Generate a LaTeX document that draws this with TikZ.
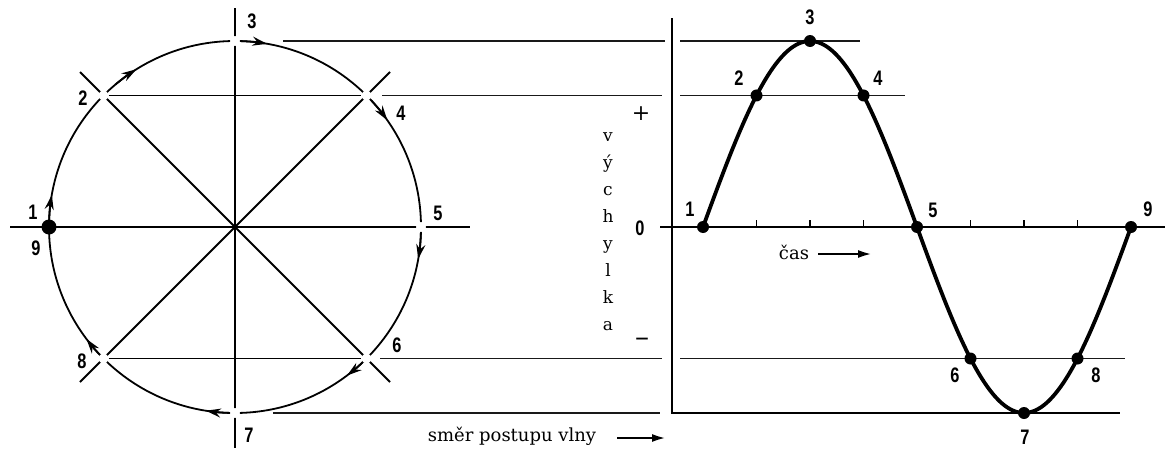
\documentclass[tikz,border=0pt]{standalone}
\usepackage{fontspec}
\setmainfont{DejaVu Serif}
\newfontfamily\numfont[FakeStretch=0.78]{Liberation Sans}
\usetikzlibrary{arrows.meta,calc}
\begin{document}
\begin{tikzpicture}[x=1pt,y=-1pt,
  thinln/.style={line width=1.8pt},
  hline/.style={line width=1.9pt, black!90},
  cpt/.style={circle, fill=white, inner sep=0pt, minimum size=10pt},
  bigdot/.style={circle, fill=black, inner sep=0pt, minimum size=15pt},
  gdot/.style={circle, fill=black, inner sep=0pt, minimum size=12pt},
  num/.style={font=\numfont\bfseries\fontsize{21}{21}\selectfont, inner sep=0pt},
  lab/.style={font=\fontsize{17}{17}\selectfont, inner sep=0pt},
  carrow/.style={line width=1.8pt, -{Stealth[length=15pt,width=9pt]}},
  tarrow/.style={line width=2.4pt, -{Latex[length=14pt,width=8pt]}},
  wave/.style={line width=3.8pt}]
\useasboundingbox (0,0) rectangle (1170,450);
\def\R{186}
\coordinate (O) at (235,227);
% circle and its axes
\draw[thinln] (O) circle[radius=\R];
\coordinate (hL) at (10,227); \coordinate (hR) at (470,227);
\coordinate (vT) at (235,8); \coordinate (vB) at (235,448);
\coordinate (d2) at (80,72); \coordinate (d4) at (390,72);
\coordinate (d6) at (390,382); \coordinate (d8) at (80,382);
\draw[thinln] (hL) -- (hR);
\draw[thinln] (vT) -- (vB);
\draw[thinln] (d2) -- (d6);
\draw[thinln] (d4) -- (d8);
% direction arrows on the circle
\foreach \t in {-170,-122,-80,-35,10,53,99,143}
  \draw[carrow] ([shift={(O)}]{\t-8}:\R) arc[start angle=\t-8, end angle=\t, radius=\R];
% points on the circle
\node[bigdot] (c1) at (49,227) {};
\node[cpt] (c2) at (103.5,95.5) {};
\node[cpt] (c3) at (235,41) {};
\node[cpt] (c4) at (366.5,95.5) {};
\node[cpt] (c5) at (421,227) {};
\node[cpt] (c6) at (366.5,358.5) {};
\node[cpt] (c7) at (235,413) {};
\node[cpt] (c8) at (103.5,358.5) {};
\draw[thinln] (c2) -- (c4);
\draw[thinln] (c8) -- (c6);
% labels on the circle
\node[num] (n3) at (252,21) {3};
\node[num] (n2) at (83,98) {2};
\node[num] (n4) at (401,113) {4};
\node[num] (n1) at (33,212) {1};
\node[num] (n9) at (36,248) {9};
\node[num] (n5) at (438,213) {5};
\node[num] (n6) at (397,345) {6};
\node[num] (n8) at (82,361) {8};
\node[num] (n7) at (249,435) {7};
% projection lines (left parts)
\coordinate (p3a) at (283,41);  \coordinate (p3b) at (665,41);
\coordinate (p2a) at (382,95.5); \coordinate (p2b) at (662,95.5);
\coordinate (p6a) at (380,358.5); \coordinate (p6b) at (662,358.5);
\coordinate (p7a) at (273,413); \coordinate (p7b) at (660,413);
\draw[hline] (p3a) -- (p3b);
\draw[hline] (p2a) -- (p2b);
\draw[hline] (p6a) -- (p6b);
\draw[hline] (p7a) -- (p7b);
% graph
\coordinate (axT) at (672,18); \coordinate (axB) at (672,413); \coordinate (axR) at (1120,413);
\draw[thinln] (axT) -- (axB) -- (axR);
\coordinate (zL) at (660,227); \coordinate (zR) at (1165,227);
\draw[thinln] (zL) -- (zR);
\foreach \k in {1,2,3,5,6,7}
  \draw[thinln] ({703+53.5*\k},227) -- ++(0,-7);
\coordinate (q3a) at (680,41);  \coordinate (q3b) at (860,41);
\coordinate (q2a) at (680,95.5); \coordinate (q2b) at (905,95.5);
\coordinate (q6a) at (680,358.5); \coordinate (q6b) at (1125,358.5);
\draw[hline] (q3a) -- (q3b);
\draw[hline] (q2a) -- (q2b);
\draw[hline] (q6a) -- (q6b);
\draw[wave] plot[domain=0:360,samples=120,smooth] ({703+1.188889*\x},{227-186*sin(\x)});
\foreach \k in {1,...,9}
  \node[gdot] (g\k) at ({703+53.5*(\k-1)},{227-186*sin(45*(\k-1))}) {};
\node[num] (m3) at (810,17) {3};
\node[num] (m2) at (739,78) {2};
\node[num] (m4) at (878,78) {4};
\node[num] (m1) at (690,209) {1};
\node[num] (m5) at (933,210) {5};
\node[num] (m9) at (1148,209) {9};
\node[num] (m6) at (955,375) {6};
\node[num] (m8) at (1096,375) {8};
\node[num] (m7) at (1025,437) {7};
% axis labels
\node[font=\fontsize{22}{22}\selectfont, inner sep=0pt] (plus) at (641,114) {+};
\node[num] (zero) at (640,228) {0};
\node[font=\fontsize{28}{28}\selectfont, inner sep=0pt] (minus) at (642,342) {\textendash};
\node[lab, align=center, font=\fontsize{17}{27}\selectfont] (vy) at (608,232) {v\\ý\\c\\h\\y\\l\\k\\a};
\node[lab, font=\fontsize{18}{18}\selectfont] (cas) at (794,252) {čas};
\coordinate (casA) at (818,254); \coordinate (casB) at (872,254);
\draw[tarrow] (casA) -- (casB);
\node[lab, font=\fontsize{18}{18}\selectfont] (smer) at (512,436) {směr postupu vlny};
\coordinate (smA) at (617,438); \coordinate (smB) at (666,438);
\draw[tarrow] (smA) -- (smB);
\end{tikzpicture}
\end{document}
